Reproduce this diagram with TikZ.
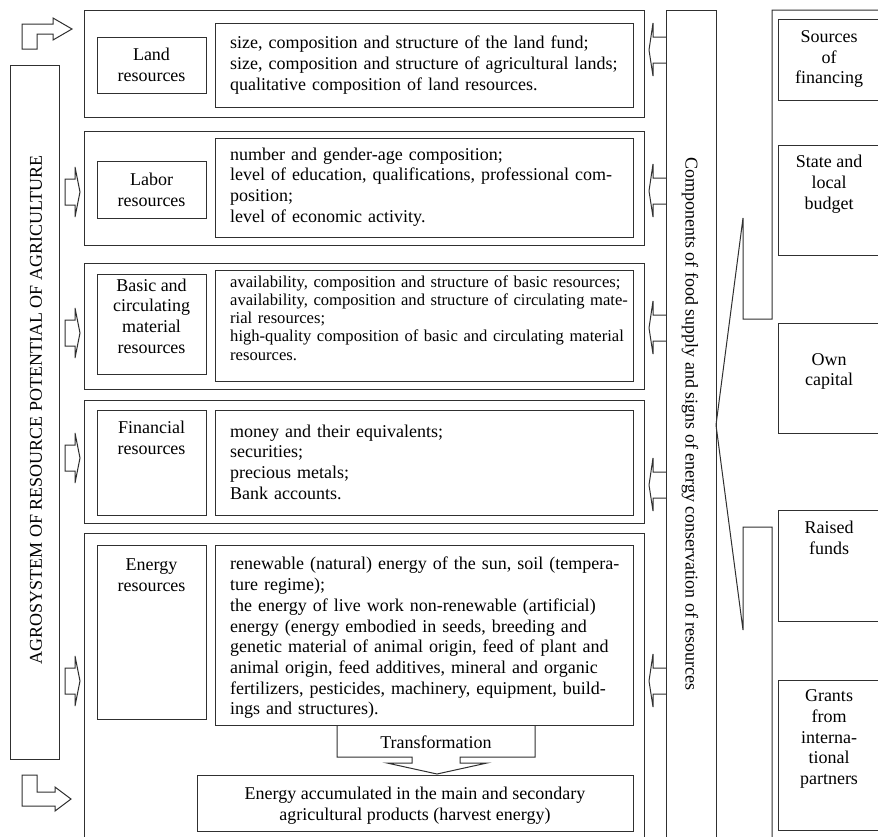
\documentclass[tikz,border=0pt]{standalone}
\usepackage{fontspec}
\setmainfont{Liberation Serif}
\definecolor{lc}{HTML}{303030}
\newcommand\J[1]{\makebox[388pt][s]{#1}}
\newcommand\larr[1]{\draw[blk] (666,{#1-13}) -- (653,{#1-13}) -- (653,{#1-27}) -- (649,{#1}) -- (653,{#1+26}) -- (653,{#1+13}) -- (666,{#1+13});}
\newcommand\rarr[1]{\draw[blk] (65,{#1-13}) -- (75,{#1-13}) -- (75,{#1-25}) -- (80,{#1}) -- (75,{#1+25}) -- (75,{#1+13}) -- (65,{#1+13}) -- cycle;}
\tikzset{
  rect/.style={draw=lc, line width=1pt, inner sep=0pt, outer sep=0pt, anchor=north west},
  blk/.style={draw=lc, line width=1pt, line join=miter},
  txt/.style={font=\fontsize{18}{20.7}\selectfont, inner sep=0pt, align=center},
  desc/.style={font=\fontsize{18}{20.7}\selectfont, inner sep=0pt, text width=388pt, align=left, anchor=west},
}
\begin{document}
\begin{tikzpicture}[x=1pt,y=-1pt]
\useasboundingbox (0,0) rectangle (878,836);
\clip (0,0) rectangle (878,836);
\fill[white] (0,0) rectangle (878,836);
% left bar
\node[rect, minimum width=49pt, minimum height=694pt] (bar) at (10,65) {};
\node[txt, rotate=90] (bartxt) at (36,410) {AGROSYSTEM OF RESOURCE POTENTIAL OF AGRICULTURE};
% bent arrows
\draw[blk] (22,49) -- (22,24) -- (53,24) -- (53,18) -- (72,29) -- (53,40) -- (53,34) -- (37,34) -- (37,49) -- cycle;
\draw[blk] (22,775) -- (22,806) -- (55,806) -- (55,811) -- (71,799) -- (55,787) -- (55,792) -- (37,792) -- (37,775) -- cycle;
% groups
\node[rect, minimum width=560pt, minimum height=107pt] (g1) at (84,10) {};
\node[rect, minimum width=560pt, minimum height=114pt] (g2) at (84,131) {};
\node[rect, minimum width=560pt, minimum height=126pt] (g3) at (84,263) {};
\node[rect, minimum width=560pt, minimum height=123pt] (g4) at (84,400) {};
\node[rect, minimum width=560pt, minimum height=330pt] (g5) at (84,533) {};
% label boxes
\node[rect, minimum width=109pt, minimum height=56pt] (l1) at (97,37) {};
\node[rect, minimum width=109pt, minimum height=57pt] (l2) at (97,161) {};
\node[rect, minimum width=109pt, minimum height=100pt] (l3) at (97,274) {};
\node[rect, minimum width=109pt, minimum height=105pt] (l4) at (97,410) {};
\node[rect, minimum width=109pt, minimum height=174pt] (l5) at (97,545) {};
\node[txt] (l1t) at (151.5,65) {Land\\resources};
\node[txt] (l2t) at (151.5,189.5) {Labor\\resources};
\node[txt] (l3t) at (151.5,316) {Basic and\\circulating\\material\\resources};
\node[txt] (l4t) at (151.5,438) {Financial\\resources};
\node[txt] (l5t) at (151.5,575) {Energy\\resources};
% description boxes
\node[rect, minimum width=418pt, minimum height=84pt] (d1) at (215,23) {};
\node[rect, minimum width=418pt, minimum height=99pt] (d2) at (215,138) {};
\node[rect, minimum width=418pt, minimum height=111pt] (d3) at (215,270) {};
\node[rect, minimum width=418pt, minimum height=105pt] (d4) at (215,410) {};
\node[rect, minimum width=418pt, minimum height=180pt] (d5) at (215,545) {};
\node[desc] (d1t) at (230,65) {size, composition and structure of the land fund;\\
size, composition and structure of agricultural lands;\\
qualitative composition of land resources.};
\node[desc] (d2t) at (230,187) {number and gender-age composition;\\
\J{level of education, qualifications, professional com-}\\
position;\\
level of economic activity.};
\node[desc, font=\fontsize{16.6}{18.2}\selectfont] (d3t) at (230,318) {\J{availability, composition and structure of basic resources;}\\
\J{availability, composition and structure of circulating mate-}\\
rial resources;\\
\J{high-quality composition of basic and circulating material}\\
resources.};
\node[desc] (d4t) at (230,462) {money and their equivalents;\\
securities;\\
precious metals;\\
Bank accounts.};
\node[desc] (d5t) at (230,638) {\J{renewable (natural) energy of the sun, soil (tempera-}\\
ture regime);\\
\J{the energy of live work non-renewable (artificial)}\\
\J{energy (energy embodied in seeds, breeding and}\\
\J{genetic material of animal origin, feed of plant and}\\
\J{animal origin, feed additives, mineral and organic}\\
\J{fertilizers, pesticides, machinery, equipment, build-}\\
ings and structures).};
% transformation
\draw[blk] (d5.south -| 337,0) -- (337,757) -- (412,757) -- (412,763) -- (387,763) -- (437,774) -- (487,763) -- (460,763) -- (460,757) -- (535,757) -- (d5.south -| 535,0);
\node[txt] (tr) at (436,742) {Transformation};
\node[rect, minimum width=436pt, minimum height=56pt] (acc) at (197,775) {};
\node[txt] (acct) at (415,805.5) {Energy accumulated in the main and secondary\\agricultural products (harvest energy)};
% middle column
\node[rect, minimum width=50pt, minimum height=840pt] (comp) at (666,10) {};
\node[txt, rotate=-90] (comptxt) at (690,424) {Components of food supply and signs of energy conservation of resources};
% arrows
\larr{50}\larr{191}\larr{328}\larr{485}\larr{681}
\rarr{192}\rarr{333}\rarr{458}\rarr{681}
% right bracket and outer box
\coordinate (apex) at (716,425);
\draw[blk] (890,10) -- (772,10) -- (772,319) -- (743,319) -- (743,218) -- (apex) -- (743,630) -- (743,527) -- (772,527) -- (772,850);
% right boxes
\node[rect, minimum width=120pt, minimum height=81pt] (s1) at (778,19) {};
\node[rect, minimum width=120pt, minimum height=110pt] (s2) at (778,145) {};
\node[rect, minimum width=120pt, minimum height=110pt] (s3) at (778,323) {};
\node[rect, minimum width=120pt, minimum height=111pt] (s4) at (778,510) {};
\node[rect, minimum width=120pt, minimum height=150pt] (s5) at (778,680) {};
\node[txt] (s1t) at (829,59) {Sources\\of\\financing};
\node[txt] (s2t) at (829,184) {State and\\local\\budget};
\node[txt] (s3t) at (829,371.5) {Own\\capital};
\node[txt] (s4t) at (829,538) {Raised\\funds};
\node[txt] (s5t) at (829,739) {Grants\\from\\interna-\\tional\\partners};
\end{tikzpicture}
\end{document}
